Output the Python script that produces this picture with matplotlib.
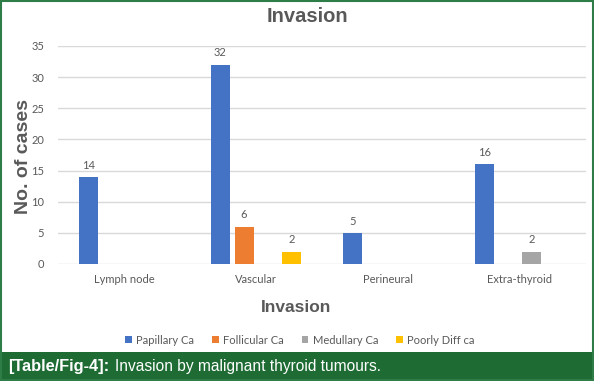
import matplotlib
matplotlib.use("Agg")
import matplotlib.pyplot as plt
import numpy as np
from matplotlib.patches import Rectangle

categories = ["Lymph node", "Vascular", "Perineural", "Extra-thyroid"]
series = ["Papillary Ca", "Follicular Ca", "Medullary Ca", "Poorly Diff ca"]
papillary = [14, 32, 5, 16]
follicular = [0, 6, 0, 0]
medullary = [0, 0, 0, 2]
poorly = [0, 2, 0, 0]
values = [papillary, follicular, medullary, poorly]
colors = ["#4472C4", "#ED7D31", "#A5A5A5", "#FFC000"]

gray = "#595959"
green = "#1E6B34"

fig = plt.figure(figsize=(5.94, 3.81), dpi=100)
ax = fig.add_axes([58 / 594, 117 / 381, 528 / 594, 218 / 381])

x = np.arange(len(categories))
step = 0.18
width = 0.145
for i, (name, vals, c) in enumerate(zip(series, values, colors)):
    pos = x + (i - 1.5) * step
    bars = ax.bar(pos, vals, width, color=c, label=name, zorder=3)
    for b, v in zip(bars, vals):
        if v > 0:
            ax.text(b.get_x() + b.get_width() / 2, v + 1.0, str(v),
                    ha="center", va="bottom", fontsize=8, color=gray,
                    family="Lato")

ax.set_xlim(-0.5, 3.5)
ax.set_ylim(0, 35)
ax.set_yticks(range(0, 36, 5))
ax.set_xticks(x)
ax.set_xticklabels(categories)
ax.yaxis.grid(True, color="#D9D9D9", linewidth=1, zorder=0)
for s in ax.spines.values():
    s.set_visible(False)
ax.tick_params(length=0, labelsize=8, labelcolor=gray, pad=10)
ax.tick_params(axis="x", pad=7)
for lab in ax.get_xticklabels() + ax.get_yticklabels():
    lab.set_family("Lato")

fig.text(307 / 594, 1 - 17 / 381, "Invasion", ha="center", va="center",
         fontsize=14.5, fontweight="bold", color=gray, family="Liberation Sans")
fig.text(296 / 594, 1 - 308 / 381, "Invasion", ha="center", va="center",
         fontsize=12.5, fontweight="bold", color=gray, family="Liberation Sans")
fig.text(24 / 594, 1 - 157 / 381, "No. of cases", ha="center", va="center",
         rotation=90, fontsize=14, fontweight="bold", color=gray,
         family="Liberation Sans")

leg = fig.legend(loc="center", bbox_to_anchor=(300 / 594, 1 - 340 / 381),
                 ncol=4, frameon=False, handlelength=0.6,
                 handleheight=0.6, handletextpad=0.4, columnspacing=1.6,
                 prop={"family": "Lato", "size": 8})
for t in leg.get_texts():
    t.set_color(gray)

# caption bar and frame
fig.patches.append(Rectangle((0, 0), 1, 29 / 381, transform=fig.transFigure,
                             facecolor=green, edgecolor="none", zorder=0))
fig.patches.append(Rectangle((1 / 594, 1 / 381), 592 / 594, 379 / 381,
                             transform=fig.transFigure, facecolor="none",
                             edgecolor="#2E7D46", linewidth=1.5, zorder=5))

t1 = fig.text(8 / 594, 1 - 366 / 381, "[Table/Fig-4]:", ha="left", va="center",
              fontsize=11.8, fontweight="bold", color="white",
              family="Liberation Sans")
fig.canvas.draw()
bb = t1.get_window_extent()
fig.text((bb.x1 + 6) / 594, 1 - 366 / 381,
         "Invasion by malignant thyroid tumours.", ha="left", va="center",
         fontsize=11.2, color="white", family="Liberation Sans")

fig.savefig("out.png", dpi=100)
